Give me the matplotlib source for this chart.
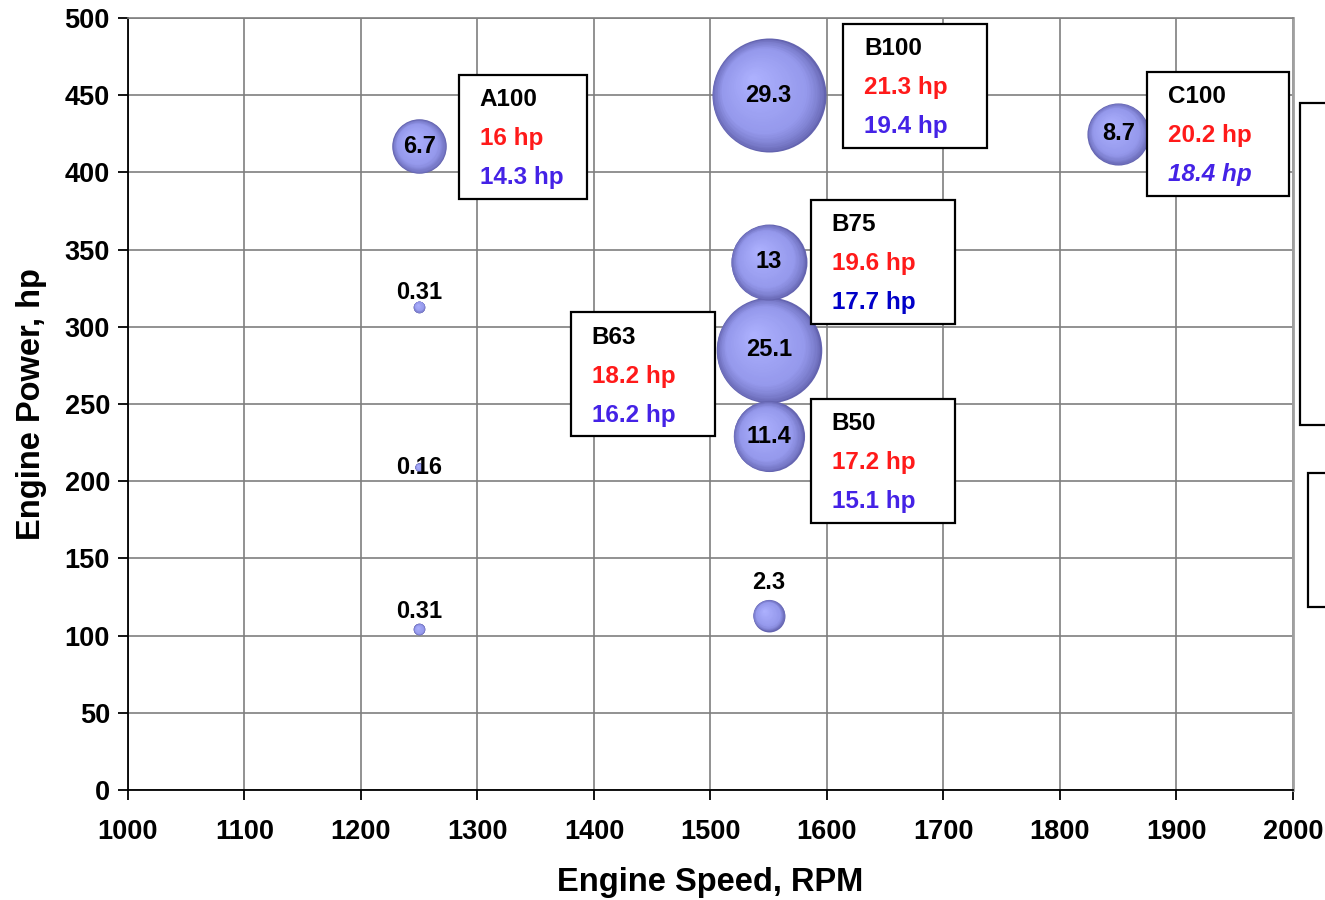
import numpy as np
import matplotlib
matplotlib.use('Agg')
import matplotlib.pyplot as plt
from matplotlib.patches import Rectangle
from matplotlib.transforms import offset_copy
from matplotlib.colors import to_rgb

plt.rcParams['font.family'] = ['Liberation Sans', 'DejaVu Sans']
plt.rcParams['font.weight'] = 'bold'

# bubble data: engine speed, engine power, bubble value
speed = [1250, 1250, 1250, 1250, 1550, 1550, 1550, 1550, 1550, 1850]
power = [417, 313, 209, 104, 450, 342, 285, 229, 113, 425]
value = [6.7, 0.31, 0.16, 0.31, 29.3, 13, 25.1, 11.4, 2.3, 8.7]
value_text = ['6.7', '0.31', '0.16', '0.31', '29.3', '13', '25.1', '11.4', '2.3', '8.7']

# annotation boxes
box_names = ['A100', 'B100', 'C100', 'B75', 'B63', 'B50']
red_hp = ['16', '21.3', '20.2', '19.6', '18.2', '17.2']
blue_hp = ['14.3', '19.4', '18.4', '17.7', '16.2', '15.1']


def draw_bubble(ax, fig, x, y, v, z, scale=230, n=40):
    edge = np.array(to_rgb('#6464b0'))
    mid = np.array(to_rgb('#9599ec'))
    hi = np.array(to_rgb('#aeb2ff'))
    s = scale * v
    r = np.sqrt(s) / 2
    for i in range(n):
        f = 1 - i / n
        d = 1 - f
        if d < 0.25:
            col = edge + (mid - edge) * (d / 0.25) ** 0.7
        else:
            col = mid + (hi - mid) * ((d - 0.25) / 0.75)
        shift = d * r * 0.3
        tr = offset_copy(ax.transData, fig=fig, x=-shift, y=shift, units='points')
        ax.scatter([x], [y], s=s * f * f, color=col, linewidths=0,
                   transform=tr, zorder=z)


fig = plt.figure(figsize=(13.25, 9), dpi=100)
ax = fig.add_axes([0.0966, 0.1222, 0.8792, 0.8578])

# larger bubbles underneath smaller ones
order = np.argsort(value)[::-1]
for k, idx in enumerate(order):
    draw_bubble(ax, fig, speed[idx], power[idx], value[idx], 3 + k * 0.01)

# label offsets in points (small bubbles get the label above)
label_dy = [0, 10, 0, 13, 0, 0, 0, 0, 24, 0]
for x, y, t, dy in zip(speed, power, value_text, label_dy):
    ax.annotate(t, (x, y), xytext=(0, dy), textcoords='offset points',
                ha='center', va='center', fontsize=17, fontweight='bold',
                color='black', zorder=4)

# boxes: lower-left corner, width
box_xy = [(1284, 383), (1614, 416), (1875, 385), (1586, 302), (1380, 229), (1586, 173)]
box_w = [110, 123, 122, 124, 124, 124]
blue_cols = ['#4422e6', '#4422e6', '#4422e6', '#0000c8', '#4422e6', '#4422e6']
blue_style = ['normal', 'normal', 'italic', 'normal', 'normal', 'normal']
box_h = 80.3
for (bx, by), w, name, rv, bv, bc, st in zip(box_xy, box_w, box_names, red_hp,
                                              blue_hp, blue_cols, blue_style):
    ax.add_patch(Rectangle((bx, by), w, box_h, facecolor='white', edgecolor='black',
                           linewidth=1.6, zorder=5, clip_on=False))
    tx = bx + 18
    top = by + box_h
    ax.text(tx, top - 16.2, name, fontsize=17.5, fontweight='bold', color='black',
            va='center', ha='left', zorder=6)
    ax.text(tx, top - 41.4, rv + ' hp', fontsize=17.5, fontweight='bold',
            color='#ff1a1a', va='center', ha='left', zorder=6)
    ax.text(tx, top - 66.6, bv + ' hp', fontsize=17.5, fontweight='bold',
            color=bc, style=st, va='center', ha='left', zorder=6)

ax.set_xlim(1000, 2000)
ax.set_ylim(0, 500)
ax.set_xticks(np.arange(1000, 2001, 100))
ax.set_yticks(np.arange(0, 501, 50))
ax.grid(True, color='#7f7f7f', linewidth=1.2)
ax.set_axisbelow(True)
ax.tick_params(direction='out', length=7, width=1.3, labelsize=19.5, pad=6)
for lab in ax.get_xticklabels() + ax.get_yticklabels():
    lab.set_fontweight('bold')
ax.xaxis.set_tick_params(pad=14)
for side in ['left', 'bottom']:
    ax.spines[side].set_color('black')
    ax.spines[side].set_linewidth(1.3)
ax.spines['top'].set_color('#7f7f7f')
ax.spines['top'].set_linewidth(1.2)
ax.spines['right'].set_color('#a0a0a0')
ax.spines['right'].set_linewidth(2)

ax.set_xlabel('Engine Speed, RPM', fontsize=23.5, fontweight='bold', labelpad=16)
ax.set_ylabel('Engine Power, hp', fontsize=23.5, fontweight='bold', labelpad=13)

# boxes running off the right edge
fig.patches.append(Rectangle((1300 / 1325, 1 - 425 / 900), 0.05, 322 / 900,
                             transform=fig.transFigure, facecolor='white',
                             edgecolor='black', linewidth=1.6))
fig.patches.append(Rectangle((1308 / 1325, 1 - 607 / 900), 0.05, 134 / 900,
                             transform=fig.transFigure, facecolor='white',
                             edgecolor='black', linewidth=1.6))

fig.savefig('out.png', dpi=100)
